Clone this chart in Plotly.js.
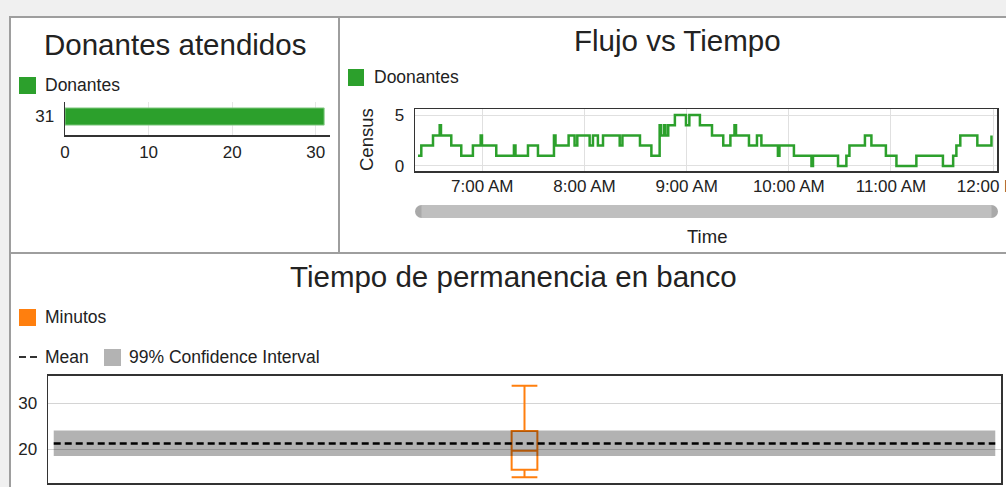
<!DOCTYPE html>
<html><head><meta charset="utf-8">
<script src="https://cdn.plot.ly/plotly-3.0.1.min.js"></script>
<style>html,body{margin:0;padding:0;background:#f0f0f0;overflow:hidden}#chart{width:1006px;height:487px}</style>
</head><body><div id="chart"></div>
<script>
// ---------- DATA ----------
const barCategories = ['31'];
const barValues = [31];
const barSeriesName = 'Donantes';

const flowSeriesName = 'Doonantes';
const flowDate = '2024-01-01';
const flowTimes = ['06:22:15','06:24:12','06:31:04','06:35:00','06:35:45','06:41:48','06:47:40','06:54:30','06:59:04','06:59:50',
  '07:08:13','07:18:36','07:19:30','07:26:50','07:32:42','07:42:06','07:43:00','07:50:42','07:54:12','07:55:48',
  '08:03:03','08:05:00','08:07:54','08:10:54','08:20:42','08:22:18','08:32:36','08:39:18','08:44:09','08:44:54',
  '08:46:42','08:47:36','08:49:12','08:53:06','08:59:36','09:01:36','09:07:48','09:14:54','09:21:30','09:25:42',
  '09:28:06','09:29:00','09:36:36','09:41:18','09:43:54','09:53:36','09:54:30','10:03:00','10:13:18','10:14:12',
  '10:28:54','10:33:48','10:35:36','10:44:42','10:48:30','10:57:00','11:03:12','11:14:54','11:30:30','11:36:30',
  '11:38:24','11:40:42','11:50:42','11:59:00'];
const flowCensus = [1,2,3,4,3,2,1,2,3,2,
  1,2,1,2,1,3,2,3,2,3,
  2,3,2,3,2,3,2,1,4,3,
  4,3,4,5,4,5,4,3,2,3,
  4,3,2,3,2,1,2,1,0,1,
  0,1,2,3,2,1,0,1,0,1,
  2,3,2,3];
const flowTickTimes = ['07:00','08:00','09:00','10:00','11:00','12:00'];

const boxSeriesName = 'Minutos';
const boxLowerFence = [14.0];
const boxQ1 = [15.6];
const boxMedian = [19.7];
const boxQ3 = [24.0];
const boxUpperFence = [33.8];
const meanValue = [21.3];
const ciLower = [18.6];
const ciUpper = [24.1];

// ---------- LAYOUT HELPERS ----------
const W = 1006, H = 487;
const px = x => x / W, py = y => 1 - y / H;
const FONT = 'Liberation Sans, Arial, sans-serif';
const TXT = '#222';
const GREEN = '#2ca02c', ORANGE = '#ff7f0e';

const fullTimes = flowTimes.map(t => flowDate + ' ' + t);
const bandX0 = -0.494, bandX1 = 0.494;

const traces = [
  { type: 'bar', orientation: 'h', name: barSeriesName, x: barValues, y: barCategories,
    xaxis: 'x', yaxis: 'y', width: 0.52,
    marker: { color: GREEN, line: { color: 'rgba(140,205,140,1)', width: 1 } }, hoverinfo: 'skip' },
  { type: 'scatter', mode: 'lines', name: flowSeriesName, x: fullTimes, y: flowCensus,
    xaxis: 'x2', yaxis: 'y2', line: { shape: 'hv', color: GREEN, width: 2.5 }, hoverinfo: 'skip' },
  { type: 'box', name: boxSeriesName, x: [0], q1: boxQ1, median: boxMedian, q3: boxQ3,
    lowerfence: boxLowerFence, upperfence: boxUpperFence, xaxis: 'x3', yaxis: 'y3',
    width: 0.027, whiskerwidth: 1, boxpoints: false,
    line: { color: ORANGE, width: 2 }, fillcolor: 'rgba(0,0,0,0)', hoverinfo: 'skip' },
  { type: 'scatter', mode: 'lines', name: '99% Confidence Interval',
    x: [bandX0, bandX1, bandX1, bandX0, bandX0],
    y: [ciLower[0], ciLower[0], ciUpper[0], ciUpper[0], ciLower[0]],
    fill: 'toself', fillcolor: 'rgba(0,0,0,0.3)', line: { width: 0 },
    xaxis: 'x3', yaxis: 'y3', hoverinfo: 'skip' },
  { type: 'scatter', mode: 'lines', name: 'Mean', x: [bandX0, bandX1], y: [meanValue[0], meanValue[0]],
    line: { color: '#000', width: 2.5, dash: '7px,4px' }, xaxis: 'x3', yaxis: 'y3', hoverinfo: 'skip' }
];

const tickFont = { family: FONT, size: 17, color: TXT };

const shapes = [
  // panels
  { type: 'rect', xref: 'paper', yref: 'paper', x0: px(10), x1: px(339), y0: py(253), y1: py(17),
    fillcolor: '#fff', line: { color: '#9e9e9e', width: 2 }, layer: 'below' },
  { type: 'rect', xref: 'paper', yref: 'paper', x0: px(339), x1: px(1012), y0: py(253), y1: py(17),
    fillcolor: '#fff', line: { color: '#9e9e9e', width: 2 }, layer: 'below' },
  { type: 'rect', xref: 'paper', yref: 'paper', x0: px(10), x1: px(1012), y0: py(492), y1: py(253),
    fillcolor: '#fff', line: { color: '#9e9e9e', width: 2 }, layer: 'below' },
  // legend squares
  { type: 'rect', xref: 'paper', yref: 'paper', x0: px(19), x1: px(36), y0: py(94), y1: py(77), fillcolor: GREEN, line: { width: 0 } },
  { type: 'rect', xref: 'paper', yref: 'paper', x0: px(348), x1: px(364), y0: py(86), y1: py(69), fillcolor: GREEN, line: { width: 0 } },
  { type: 'rect', xref: 'paper', yref: 'paper', x0: px(19), x1: px(36), y0: py(326), y1: py(309), fillcolor: ORANGE, line: { width: 0 } },
  { type: 'rect', xref: 'paper', yref: 'paper', x0: px(104), x1: px(121), y0: py(366), y1: py(349), fillcolor: '#b3b3b3', line: { width: 0 } },
  { type: 'line', xref: 'paper', yref: 'paper', x0: px(19), x1: px(26), y0: py(357), y1: py(357), line: { color: '#333', width: 2 } },
  { type: 'line', xref: 'paper', yref: 'paper', x0: px(30), x1: px(37), y0: py(357), y1: py(357), line: { color: '#333', width: 2 } },
  // scrollbar
  { type: 'circle', xref: 'paper', yref: 'paper', x0: px(415), x1: px(428), y0: py(218), y1: py(205), fillcolor: '#a9a9a9', line: { width: 0 } },
  { type: 'circle', xref: 'paper', yref: 'paper', x0: px(985), x1: px(998), y0: py(218), y1: py(205), fillcolor: '#a9a9a9', line: { width: 0 } },
  { type: 'rect', xref: 'paper', yref: 'paper', x0: px(421.5), x1: px(991.5), y0: py(218), y1: py(205), fillcolor: '#bfbfbf', line: { width: 0 } }
];

const ann = (text, x, y, opts) => Object.assign({ text, x: px(x), y: py(y), xref: 'paper', yref: 'paper',
  showarrow: false, xanchor: 'left', yanchor: 'middle', borderpad: 0,
  font: { family: FONT, size: 17.5, color: TXT } }, opts || {});
const titleFont = { family: FONT, size: 29.5, color: TXT };

const annotations = [
  ann('Donantes atendidos', 175, 45, { xanchor: 'center', font: titleFont }),
  ann('Flujo vs Tiempo', 677, 40, { xanchor: 'center', font: titleFont }),
  ann('Tiempo de permanencia en banco', 513, 276, { xanchor: 'center', font: titleFont }),
  ann(barSeriesName, 44, 84.5),
  ann(flowSeriesName, 373, 77),
  ann(boxSeriesName, 44, 316.5),
  ann('Mean', 44, 357),
  ann('99% Confidence Interval', 128, 357),
  ann('Census', 366, 140, { xanchor: 'center', textangle: -90, font: { family: FONT, size: 18.5, color: TXT } }),
  ann('Time', 707, 236, { xanchor: 'center', font: { family: FONT, size: 18.5, color: TXT } })
];

const layout = {
  width: W, height: H, margin: { l: 0, r: 0, t: 0, b: 0 },
  paper_bgcolor: '#f0f0f0', plot_bgcolor: 'rgba(0,0,0,0)',
  showlegend: false, font: { family: FONT, color: TXT },
  xaxis: { domain: [px(65), px(330)], anchor: 'y', range: [0, 31.7], tickvals: [0, 10, 20, 30],
    showgrid: true, gridcolor: '#e6e6e6', zeroline: false, showline: true, linecolor: '#333', linewidth: 1.5,
    ticks: '', tickfont: tickFont, ticklabelstandoff: 1, fixedrange: true },
  yaxis: { domain: [py(135), py(102)], anchor: 'x', type: 'category', range: [-0.56, 0.44],
    showgrid: false, zeroline: false, showline: true, linecolor: '#333', linewidth: 1.5,
    ticks: '', tickfont: tickFont, ticklabelstandoff: 6, fixedrange: true },
  xaxis2: { domain: [px(415), px(997)], anchor: 'y2', type: 'date',
    range: [flowDate + ' 06:20:30', flowDate + ' 12:02:15'],
    tickvals: flowTickTimes.map(t => flowDate + ' ' + t), tickformat: '%-I:%M %p',
    showgrid: true, gridcolor: '#e0e0e0', zeroline: false, showline: true, mirror: true,
    linecolor: '#333', linewidth: 1.5, ticks: '', tickfont: tickFont, ticklabelstandoff: -1,
    ticklabeloverflow: 'allow', fixedrange: true },
  yaxis2: { domain: [py(171), py(109)], anchor: 'x2', range: [-0.5, 5.6], tickvals: [0, 5],
    showgrid: true, gridcolor: '#e0e0e0', zeroline: false, showline: true, mirror: true,
    linecolor: '#333', linewidth: 1.5, ticks: '', tickfont: tickFont, ticklabelstandoff: 6, fixedrange: true },
  xaxis3: { domain: [px(48), px(1001)], anchor: 'y3', range: [-0.5, 0.5], showticklabels: false,
    showgrid: false, zeroline: false, showline: true, mirror: true, linecolor: '#333', linewidth: 1.5,
    ticks: '', fixedrange: true },
  yaxis3: { domain: [py(483), py(375.5)], anchor: 'x3', range: [12.75, 36], tickvals: [20, 30],
    showgrid: true, gridcolor: '#d4d4d4', zeroline: false, showline: true, mirror: true,
    linecolor: '#333', linewidth: 1.5, ticks: '', tickfont: tickFont, ticklabelstandoff: 6, fixedrange: true },
  shapes, annotations
};

Plotly.newPlot('chart', traces, layout, { staticPlot: true, displayModeBar: false });
</script></body></html>
